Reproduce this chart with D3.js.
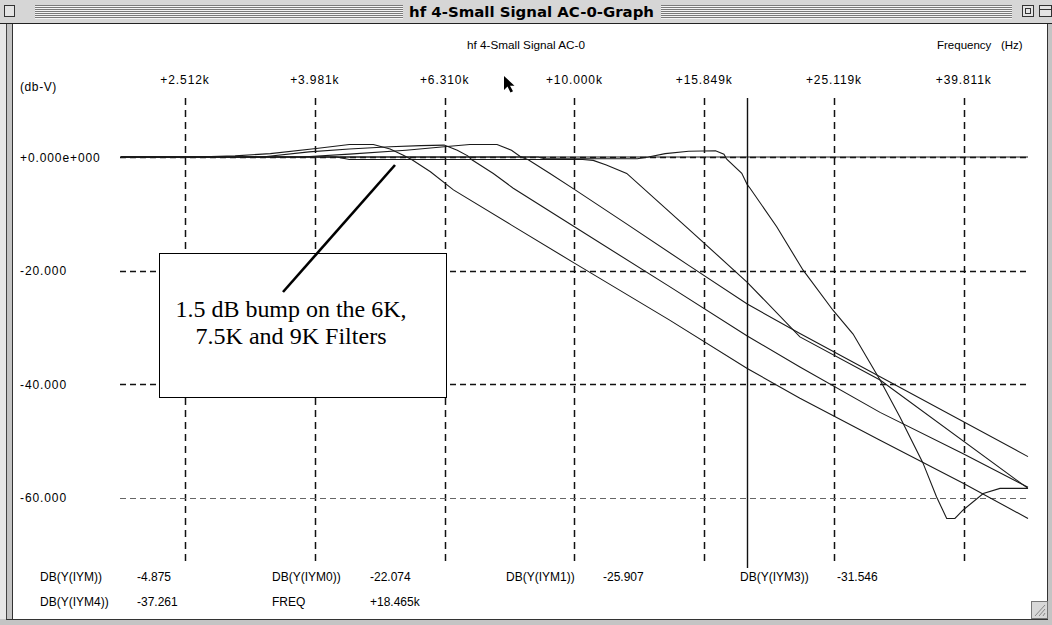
<!DOCTYPE html>
<html><head><meta charset="utf-8">
<script src="https://cdnjs.cloudflare.com/ajax/libs/d3/7.8.5/d3.min.js"></script>
<style>body{margin:0;background:#fff;} svg{display:block;}</style>
</head><body>
<svg id="c" width="1052" height="625"></svg>
<script>
// ---------- DATA ----------
const windowTitle = "hf 4-Small Signal AC-0-Graph";
const plotTitle = "hf 4-Small Signal AC-0";
const xAxisTitle = "Frequency   (Hz)";
const yAxisTitle = "(db-V)";
const freqTicks = [2512, 3981, 6310, 10000, 15849, 25119, 39811];
const freqTickLabels = ["+2.512k", "+3.981k", "+6.310k", "+10.000k", "+15.849k", "+25.119k", "+39.811k"];
const dbTicks = [0, -20, -40, -60];
const dbTickLabels = ["+0.000e+000", "-20.000", "-40.000", "-60.000"];
const cursorFreq = 18465;

// reference trace, flat
const traceRef = [[2000, 0], [50000, 0]];
// 6K filter  DB(V(IYM4))
const traceIYM4 = [[2000,0],[2600,0],[3000,0.2],[3400,0.6],[4000,1.5],[4500,2.2],[4900,2.2],[5200,1.4],[5450,0.3],[5620,-0.5],[6000,-2.6],[6510,-5.8],[8000,-12.0],[10000,-18.7],[14000,-28.7],[18465,-37.261],[22260,-42.5],[29580,-49.9],[39730,-57.5],[50000,-63.7]];
// 7.5K filter DB(V(IYM3))
const traceIYM3 = [[2000,0],[3300,0],[3900,0.9],[4500,1.4],[5200,1.8],[5800,2.0],[6300,2.1],[6600,1.2],[6850,0.2],[6950,-0.5],[7500,-2.9],[8050,-5.5],[10000,-12.3],[14000,-22.8],[18465,-31.546],[22260,-37.0],[29580,-45.0],[39730,-52.3],[50000,-58.2]];
// 9K filter DB(V(IYM1))
const traceIYM1 = [[2000,0],[3800,0],[4500,0.5],[5500,1.2],[6300,1.8],[6900,2.2],[7600,2.2],[8000,1.2],[8250,0.1],[8490,-0.5],[9170,-2.9],[10000,-5.7],[12000,-11.7],[15000,-19.1],[18465,-25.907],[22260,-31.1],[50000,-52.8]];
// 11K filter DB(V(IYM0))
const traceIYM0 = [[2000,0],[4300,0],[4500,-0.45],[10300,-0.45],[10690,-0.6],[11200,-1.4],[12040,-2.9],[15000,-12.7],[18465,-22.074],[22260,-31.7],[29580,-39.3],[50000,-58.4]];
// 18K filter DB(V(IYM))
const traceIYM = [[2000,0],[8800,0],[9000,-0.3],[12500,-0.3],[13000,0],[13800,0.6],[15000,1.0],[16500,1.1],[17000,0.5],[17170,-0.4],[18110,-2.87],[18465,-4.875],[18650,-5.5],[20500,-12.3],[22500,-19.9],[25030,-27.0],[26880,-31.2],[29580,-39.3],[31740,-45.8],[34440,-53.9],[36150,-59.9],[37470,-63.7],[38580,-63.7],[39730,-62.2],[42660,-59.3],[45270,-58.4],[50000,-58.4]];

const readoutNames1 = ["DB(Y(IYM))", "DB(Y(IYM0))", "DB(Y(IYM1))", "DB(Y(IYM3))"];
const readoutValues1 = ["-4.875", "-22.074", "-25.907", "-31.546"];
const readoutNames2 = ["DB(Y(IYM4))", "FREQ"];
const readoutValues2 = ["-37.261", "+18.465k"];
const noteLines = ["1.5 dB bump on the 6K,", "7.5K and 9K Filters"];

// ---------- DRAW ----------
const svg = d3.select("#c");
const W = 1052, H = 625;
const x = d3.scaleLog().domain([2000, 50000]).range([120.8, 1028]);
const y = d3.scaleLinear().domain([0, -60]).range([157, 497.5]);
const gridTop = 98, gridBottom = 563, gridLeft = 120, gridRight = 1028;
const uiFont = "'Liberation Sans', Arial, sans-serif";
const px = v => Math.round(v) + 0.5;

svg.append("rect").attr("width", W).attr("height", H).attr("fill", "#fff");

// window frame
svg.append("rect").attr("x", 0).attr("y", 0).attr("width", W).attr("height", 23).attr("fill", "#d6d6d6");
[[35, 403], [661, 1012]].forEach(([a, b]) => {
  for (let yy = 5; yy <= 17; yy += 2) {
    svg.append("line").attr("x1", a).attr("x2", b).attr("y1", yy + 0.5).attr("y2", yy + 0.5)
      .attr("stroke", "#7a7a7a").attr("stroke-width", 1);
    svg.append("line").attr("x1", a).attr("x2", b).attr("y1", yy + 1.5).attr("y2", yy + 1.5)
      .attr("stroke", "#f4f4f4").attr("stroke-width", 1);
  }
});
svg.append("rect").attr("x", 4.5).attr("y", 5.5).attr("width", 10).attr("height", 11)
  .attr("fill", "#e4e4e4").attr("stroke", "#333");
svg.append("rect").attr("x", 1022.5).attr("y", 5.5).attr("width", 11).attr("height", 11)
  .attr("fill", "#e4e4e4").attr("stroke", "#333");
svg.append("rect").attr("x", 1025.5).attr("y", 8.5).attr("width", 5).attr("height", 5)
  .attr("fill", "none").attr("stroke", "#333");
svg.append("rect").attr("x", 1039.5).attr("y", 5.5).attr("width", 12).attr("height", 11)
  .attr("fill", "#e4e4e4").attr("stroke", "#333");
svg.append("line").attr("x1", 1039.5).attr("x2", 1051.5).attr("y1", 9.5).attr("y2", 9.5).attr("stroke", "#333");
svg.append("text").attr("x", 531.5).attr("y", 16.5).attr("text-anchor", "middle")
  .attr("font-family", "'DejaVu Sans Condensed','DejaVu Sans',sans-serif").attr("font-weight", "bold")
  .attr("font-size", 14).attr("textLength", 245).attr("lengthAdjust", "spacingAndGlyphs")
  .attr("fill", "#000").text(windowTitle);
svg.append("line").attr("x1", 0).attr("x2", W).attr("y1", 23.5).attr("y2", 23.5).attr("stroke", "#222");
// side borders
svg.append("rect").attr("x", 6).attr("y", 24).attr("width", 7).attr("height", 595).attr("fill", "#c4c4c4");
svg.append("line").attr("x1", 6.5).attr("x2", 6.5).attr("y1", 24).attr("y2", 619).attr("stroke", "#444");
svg.append("line").attr("x1", 12.5).attr("x2", 12.5).attr("y1", 24).attr("y2", 619).attr("stroke", "#333");
svg.append("rect").attr("x", 0).attr("y", 24).attr("width", 6).attr("height", 601).attr("fill", "#e8e8e8");
svg.append("rect").attr("x", 1047).attr("y", 24).attr("width", 5).attr("height", 601).attr("fill", "#c4c4c4");
svg.append("line").attr("x1", 1047.5).attr("x2", 1047.5).attr("y1", 24).attr("y2", 619).attr("stroke", "#333");
svg.append("rect").attr("x", 0).attr("y", 619).attr("width", W).attr("height", 6).attr("fill", "#c4c4c4");
svg.append("line").attr("x1", 6).attr("x2", 1048).attr("y1", 619.5).attr("y2", 619.5).attr("stroke", "#333");
// grow box
const gb = svg.append("g").attr("transform", "translate(1031,601)");
gb.append("rect").attr("x", 0.5).attr("y", 0.5).attr("width", 16).attr("height", 17).attr("fill", "#d8d8d8").attr("stroke", "#777");
[4, 8, 12].forEach(d => gb.append("line").attr("x1", 14).attr("y1", d).attr("x2", d).attr("y2", 15).attr("stroke", "#888"));

// titles
svg.append("text").attr("x", 526).attr("y", 49).attr("text-anchor", "middle")
  .attr("font-family", uiFont).attr("font-size", 11).attr("textLength", 118).attr("lengthAdjust", "spacingAndGlyphs")
  .text(plotTitle);
svg.append("text").attr("x", 937).attr("y", 49).attr("font-family", uiFont).attr("font-size", 11.5)
  .attr("xml:space", "preserve").style("white-space", "pre").text(xAxisTitle);
svg.append("text").attr("x", 20).attr("y", 91).attr("font-family", uiFont).attr("font-size", 12)
  .attr("letter-spacing", 0.6).text(yAxisTitle);

// grid
const grid = svg.append("g");
grid.selectAll("line.v").data(freqTicks).enter().append("line")
  .attr("x1", d => px(x(d))).attr("x2", d => px(x(d))).attr("y1", gridTop).attr("y2", gridBottom)
  .attr("stroke", "#111").attr("stroke-width", 1.5).attr("stroke-dasharray", "7,5");
grid.selectAll("line.h").data(dbTicks).enter().append("line")
  .attr("x1", gridLeft).attr("x2", gridRight).attr("y1", d => px(y(d))).attr("y2", d => px(y(d)))
  .attr("stroke", d => d === -60 ? "#666" : "#111").attr("stroke-width", d => d === -60 ? 1 : 1.5)
  .attr("stroke-dasharray", "6,4");

// tick labels
svg.selectAll("text.ft").data(freqTicks).enter().append("text")
  .attr("x", d => x(d)).attr("y", 84).attr("text-anchor", "middle")
  .attr("font-family", uiFont).attr("font-size", 12).attr("letter-spacing", 0.9)
  .text((d, i) => freqTickLabels[i]);
svg.selectAll("text.dt").data(dbTicks).enter().append("text")
  .attr("x", 20).attr("y", d => y(d) + 4.5)
  .attr("font-family", uiFont).attr("font-size", 12).attr("letter-spacing", 0.9)
  .text((d, i) => dbTickLabels[i]);

// traces
const line = d3.line().x(d => x(d[0])).y(d => y(d[1]));
const traces = [traceRef, traceIYM4, traceIYM3, traceIYM1, traceIYM0, traceIYM];
svg.append("g").selectAll("path").data(traces).enter().append("path")
  .attr("d", line).attr("fill", "none").attr("stroke", "#1a1a1a").attr("stroke-width", 1.1);

// cursor
svg.append("line").attr("x1", px(x(cursorFreq))).attr("x2", px(x(cursorFreq))).attr("y1", gridTop).attr("y2", 568)
  .attr("stroke", "#111").attr("stroke-width", 1.4);

// mouse pointer
svg.append("path").attr("transform", "translate(504,76)")
  .attr("d", "M0,0 L0,14 L3.5,10.5 L6.5,16.5 L9,15.3 L6,9.8 L10.5,9.8 Z").attr("fill", "#000");

// annotation box
svg.append("rect").attr("x", 159.5).attr("y", 253.5).attr("width", 287).attr("height", 144)
  .attr("fill", "#fff").attr("stroke", "#000").attr("stroke-width", 1);
svg.append("line").attr("x1", 395).attr("y1", 165).attr("x2", 283).attr("y2", 292)
  .attr("stroke", "#000").attr("stroke-width", 2.6);
const noteX = 291, noteY = [317, 343.5], noteW = [231, 191];
noteLines.forEach((t, i) => svg.append("text").attr("x", noteX).attr("y", noteY[i]).attr("text-anchor", "middle")
  .attr("font-family", "'Liberation Serif','Times New Roman',serif").attr("font-size", 23)
  .attr("textLength", noteW[i]).attr("lengthAdjust", "spacingAndGlyphs").text(t));

// readouts
const colX = [40, 137, 272, 370, 506, 603, 740, 837];
readoutNames1.forEach((n, i) => {
  svg.append("text").attr("x", colX[i * 2]).attr("y", 581).attr("font-family", uiFont).attr("font-size", 12).text(n);
  svg.append("text").attr("x", colX[i * 2 + 1]).attr("y", 581).attr("font-family", uiFont).attr("font-size", 12).text(readoutValues1[i]);
});
readoutNames2.forEach((n, i) => {
  svg.append("text").attr("x", colX[i * 2]).attr("y", 606).attr("font-family", uiFont).attr("font-size", 12).text(n);
  svg.append("text").attr("x", colX[i * 2 + 1]).attr("y", 606).attr("font-family", uiFont).attr("font-size", 12).text(readoutValues2[i]);
});
</script></body></html>
